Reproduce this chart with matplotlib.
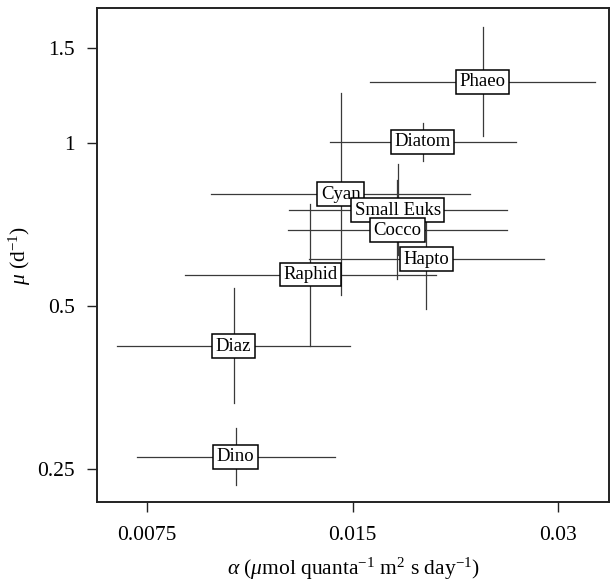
import matplotlib
matplotlib.use("Agg")
import matplotlib.pyplot as plt
from matplotlib.ticker import FixedLocator, FixedFormatter, NullLocator

plt.rcParams["font.family"] = ["Liberation Serif", "DejaVu Serif"]
plt.rcParams["mathtext.fontset"] = "custom"
plt.rcParams["mathtext.rm"] = "Liberation Serif"
plt.rcParams["mathtext.it"] = "Liberation Serif:italic"

# Taxon groups: centre estimates with lower/upper bounds for alpha and mu
groups = ["Phaeo", "Diatom", "Cyan", "Small Euks", "Cocco", "Hapto", "Raphid", "Diaz", "Dino"]
alpha = [0.02325, 0.01901, 0.01441, 0.01747, 0.01745, 0.01924, 0.01301, 0.01004, 0.01011]
alpha_lo = [0.01593, 0.01390, 0.009316, 0.01209, 0.01205, 0.012966, 0.008532, 0.006789, 0.007251]
alpha_hi = [0.03402, 0.02600, 0.02227, 0.02526, 0.02526, 0.02858, 0.01987, 0.014884, 0.014122]
mu = [1.3006, 1.0064, 0.8054, 0.7523, 0.6907, 0.6104, 0.5715, 0.4213, 0.2629]
mu_lo = [1.0316, 0.9273, 0.5230, 0.6211, 0.5605, 0.4926, 0.4219, 0.3299, 0.2333]
mu_hi = [1.640, 1.092, 1.240, 0.9155, 0.8551, 0.7565, 0.7721, 0.5388, 0.2973]

x_ticks = [0.0075, 0.015, 0.03]
x_tick_labels = ["0.0075", "0.015", "0.03"]
y_ticks = [0.25, 0.5, 1.0, 1.5]
y_tick_labels = ["0.25", "0.5", "1", "1.5"]

fig = plt.figure(figsize=(6.10, 5.84), dpi=100)
ax = fig.add_axes([0.1595, 0.1396, 0.8390, 0.8462])
ax.set_xscale("log")
ax.set_yscale("log")
ax.set_xlim(0.006342, 0.03563)
ax.set_ylim(0.2163, 1.7785)

line_kw = dict(color="#3a3a3a", linewidth=0.9, zorder=2)
for i in range(len(groups)):
    ax.plot([alpha_lo[i], alpha_hi[i]], [mu[i], mu[i]], **line_kw)
    ax.plot([alpha[i], alpha[i]], [mu_lo[i], mu_hi[i]], **line_kw)

for i, name in enumerate(groups):
    ax.text(alpha[i], mu[i], name, ha="center", va="center", fontsize=13.5,
            zorder=5,
            bbox=dict(boxstyle="square,pad=0.18", facecolor="white",
                      edgecolor="black", linewidth=1.1))

ax.xaxis.set_major_locator(FixedLocator(x_ticks))
ax.xaxis.set_major_formatter(FixedFormatter(x_tick_labels))
ax.yaxis.set_major_locator(FixedLocator(y_ticks))
ax.yaxis.set_major_formatter(FixedFormatter(y_tick_labels))
ax.xaxis.set_minor_locator(NullLocator())
ax.yaxis.set_minor_locator(NullLocator())

ax.tick_params(axis="both", which="major", labelsize=15.5, length=7,
               width=1.0, color="#222222")
ax.tick_params(axis="x", pad=10)
ax.tick_params(axis="y", pad=9)
for sp in ax.spines.values():
    sp.set_linewidth(1.4)
    sp.set_color("#222222")

ax.set_xlabel(r"$\alpha$ ($\mu$mol quanta$^{-1}$ m$^{2}$ s day$^{-1}$)", fontsize=15.5, labelpad=8)
ax.set_ylabel(r"$\mu$ (d$^{-1}$)", fontsize=15.5, labelpad=3)

fig.savefig("out.png", dpi=100)
